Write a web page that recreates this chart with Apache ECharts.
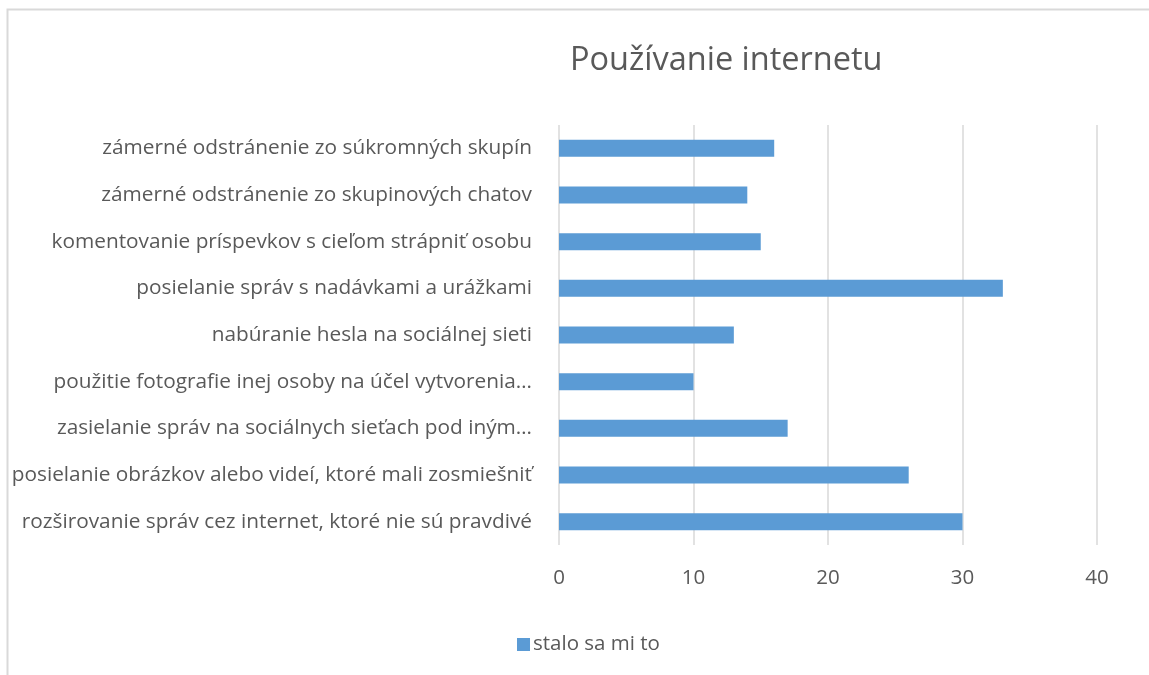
<!DOCTYPE html>
<html><head><meta charset="utf-8">
<script src="https://cdn.jsdelivr.net/npm/echarts@6/dist/echarts.min.js"></script>
<style>html,body{margin:0;padding:0;background:#fff}#c{width:1149px;height:675px}</style>
</head><body><div id="c"></div>
<script>
const titleText = 'Používanie internetu';
const seriesName = 'stalo sa mi to';
const categories = [
  'rozširovanie správ cez internet, ktoré nie sú pravdivé',
  'posielanie obrázkov alebo videí, ktoré mali zosmiešniť',
  'zasielanie správ na sociálnych sieťach pod iným…',
  'použitie fotografie inej osoby na účel vytvorenia…',
  'nabúranie hesla na sociálnej sieti',
  'posielanie správ s nadávkami a urážkami',
  'komentovanie príspevkov s cieľom strápniť osobu',
  'zámerné odstránenie zo skupinových chatov',
  'zámerné odstránenie zo súkromných skupín'
];
const values = [30, 26, 17, 10, 13, 33, 15, 14, 16];
const xTicks = { min: 0, max: 40, interval: 10 };

const font = '"Open Sans", sans-serif';
const chart = echarts.init(document.getElementById('c'));
chart.setOption({
  animation: false,
  backgroundColor: '#fff',
  graphic: [{
    type: 'rect', shape: { x: 7.5, y: 9.5, width: 1200, height: 700 },
    style: { fill: 'none', stroke: '#d9d9d9', lineWidth: 2 }, silent: true
  }],
  title: {
    text: titleText, left: 565, top: 39,
    textStyle: { fontFamily: font, fontSize: 32.5, fontWeight: 'normal', color: '#595959' }
  },
  legend: {
    left: 512, top: 629, itemWidth: 13, itemHeight: 13, icon: 'rect', itemGap: 6,
    textStyle: { fontFamily: font, fontSize: 20.5, color: '#595959', padding: [0, 0, 0, -2] },
    data: [seriesName]
  },
  grid: { left: 559, right: 52, top: 125, bottom: 130 },
  xAxis: {
    type: 'value', min: xTicks.min, max: xTicks.max, interval: xTicks.interval,
    axisLine: { show: false }, axisTick: { show: false },
    axisLabel: { fontFamily: font, fontSize: 20.5, color: '#595959', margin: 23 },
    splitLine: { lineStyle: { color: '#d9d9d9', width: 1.5 } }
  },
  yAxis: {
    type: 'category', data: categories,
    axisLine: { show: false }, axisTick: { show: false },
    axisLabel: { fontFamily: font, fontSize: 20.8, color: '#595959', margin: 27 }
  },
  series: [{
    name: seriesName, type: 'bar', data: values, barWidth: 17,
    itemStyle: { color: '#5b9bd5' }
  }]
});
</script></body></html>
